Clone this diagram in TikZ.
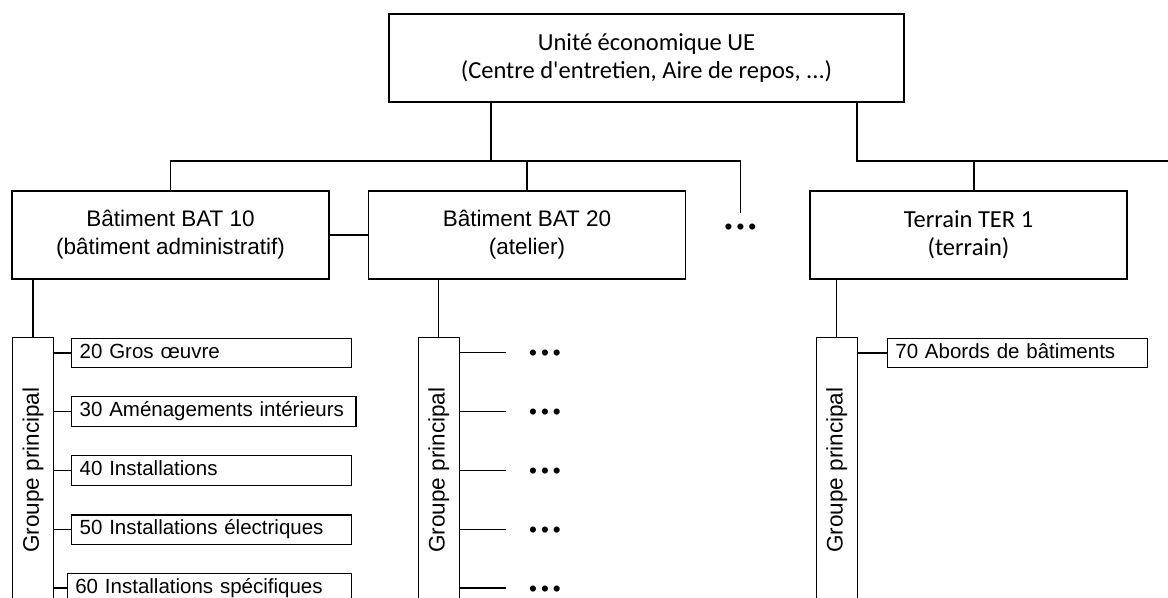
\documentclass[tikz,border=0pt]{standalone}
\usepackage{fontspec}
\setmainfont{Liberation Sans}
\newfontfamily\calfont{Carlito}
\usepackage{graphicx}
\usetikzlibrary{calc}
\tikzset{
  ln/.style={line width=1.3bp, draw=black},
  bigbox/.style={draw=black, line width=1.3bp, minimum width=317bp, minimum height=88bp,
    inner sep=0pt, align=center, font=\fontsize{22.5bp}{28bp}\selectfont},
  calbox/.style={bigbox, font=\calfont\fontsize{24.5bp}{28.5bp}\selectfont},
  grpbox/.style={draw=black, line width=1.3bp, minimum width=41bp, minimum height=264.6bp,
    inner sep=0pt, font=\fontsize{22.5bp}{27bp}\selectfont},
  itembox/.style={draw=black, line width=1.3bp, minimum height=29.5bp, inner xsep=8bp,
    inner ysep=0pt, anchor=west, align=left, text height=15.4bp, text depth=5.1bp,
    font=\fontsize{20.5bp}{24bp}\selectfont},
  dotsn/.style={inner sep=0pt, text height=16.2bp, text depth=0pt,
    font=\fontsize{22.5bp}{27bp}\selectfont}
}
\newcommand{\threedots}{\textbullet\kern4bp\textbullet\kern4bp\textbullet}
\begin{document}
\begin{tikzpicture}[x=1bp,y=-1bp]
\clip (0,0) rectangle (1168,598);
% top level
\node[calbox, minimum width=515bp] (ue) at (646.5,58) {Unité économique UE\\(Centre d'entretien, Aire de repos, ...)};
% second level
\node[bigbox] (bat10) at (170.5,235) {Bâtiment BAT 10\\(bâtiment administratif)};
\node[bigbox] (bat20) at (527,235) {Bâtiment BAT 20\\(atelier)};
\node[calbox] (ter) at (968.5,235) {Terrain TER 1\\(terrain)};
\node[dotsn] (dtop) at (740.5,226) {\threedots};
% bus coordinates
\coordinate (j1) at (491,161);
\coordinate (j2) at (857,161);
\coordinate (j3) at (974,161);
\coordinate (busend) at (1180,161);
\coordinate (dtopend) at (740.5,213);
\draw[ln] (ue.south -| j1) -- (j1);
\draw[ln] (bat10.north) |- (dtopend |- j1) -- (dtopend);
\draw[ln] (bat20.north) -- (bat20.north |- j1);
\draw[ln] (ue.south -| j2) -- (j2) -- (busend);
\draw[ln] (j3) -- (j3 |- ter.north);
\draw[ln] (bat10.east) -- (bat20.west);
% groupe principal
\node[grpbox] (gp1) at (33,470) {\rotatebox{90}{Groupe principal}};
\node[grpbox] (gp2) at (438.8,470) {\rotatebox{90}{Groupe principal}};
\node[grpbox] (gp3) at (836.7,470) {\rotatebox{90}{Groupe principal}};
\draw[ln] (gp1.north |- bat10.south) -- (gp1.north);
\draw[ln] (gp2.north |- bat20.south) -- (gp2.north);
\draw[ln] (gp3.north |- ter.south) -- (gp3.north);
% items of BAT 10
\node[itembox, text width=264bp] (it20) at (71,353) {20 Gros œuvre};
\node[itembox, text width=268.3bp] (it30) at (71,411.5) {30 Aménagements intérieurs};
\node[itembox, text width=264bp] (it40) at (71,470.5) {40 Installations};
\node[itembox, text width=264bp] (it50) at (71,529.8) {50 Installations électriques};
\node[itembox, text width=268.3bp] (it60) at (66.7,588) {60 Installations spécifiques};
\foreach \n in {it20,it30,it40,it50,it60}{
  \draw[ln] (gp1.east |- \n.west) -- (\n.west);
}
% items of BAT 20
\foreach \i/\y in {1/352.7,2/411.7,3/470.5,4/529.3,5/588}{
  \coordinate (e\i) at (506,\y);
  \node[dotsn] (d\i) at (545,\y) {\threedots};
  \draw[ln] (gp2.east |- e\i) -- (e\i);
}
% items of terrain
\node[itembox, text width=244bp] (it70) at (886.7,353) {70 Abords de bâtiments};
\draw[ln] (gp3.east |- it70.west) -- (it70.west);
\end{tikzpicture}
\end{document}
